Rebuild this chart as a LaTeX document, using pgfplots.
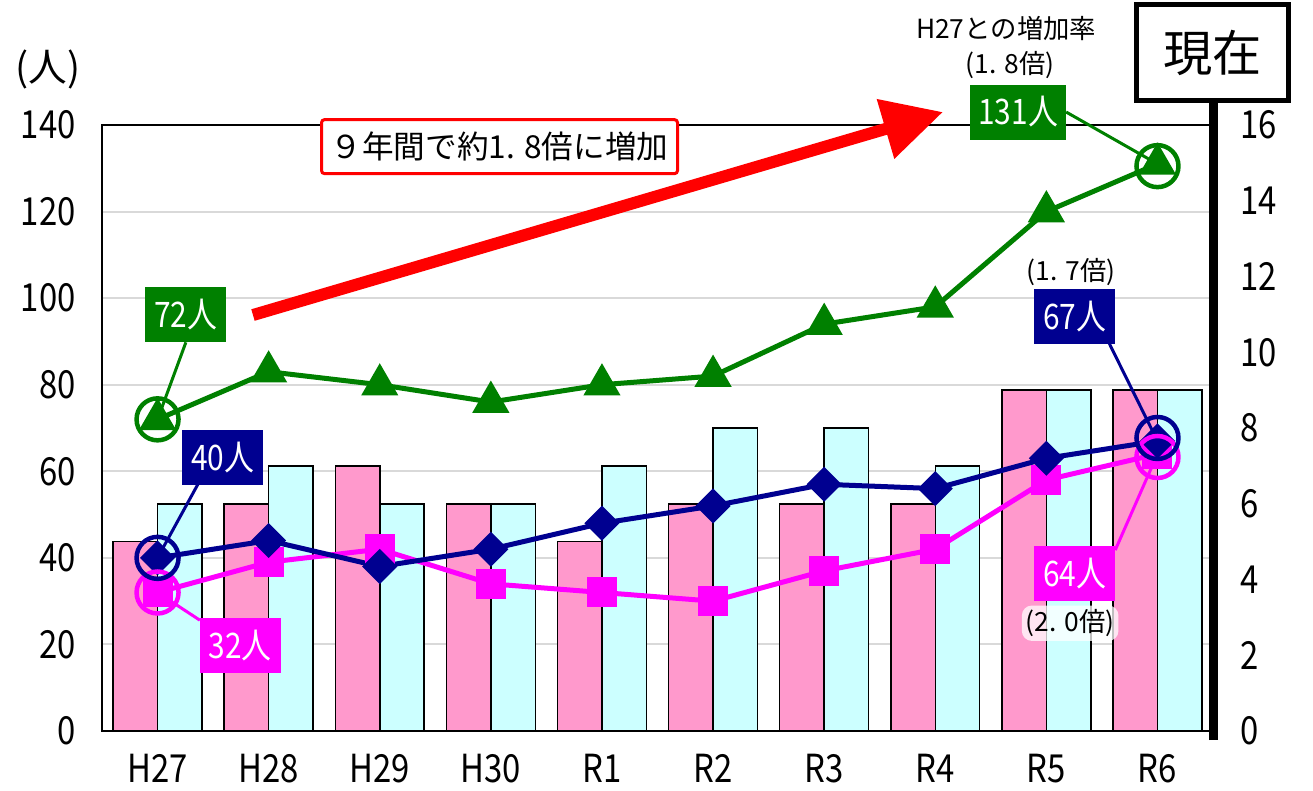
\documentclass[border=0pt]{standalone}
\usepackage{fontspec}
\setmainfont{Noto Sans CJK JP}
\newfontfamily\cond{Noto Sans CJK JP}[FakeStretch=0.85]
\usepackage{pgfplots}
\pgfplotsset{compat=1.18}
\usetikzlibrary{arrows.meta}

\definecolor{barpink}{HTML}{FF99CC}
\definecolor{barcyan}{HTML}{CCFFFF}
\definecolor{dgreen}{HTML}{008000}
\definecolor{navy}{HTML}{000090}
\definecolor{mag}{HTML}{FF00FF}
\definecolor{gridgray}{HTML}{D9D9D9}

\pgfplotsset{
  myax/.style={at={(10.2mm,5.9mm)}, anchor=south west, scale only axis,
    width=111.1mm, height=60.6mm, xmin=-0.5, xmax=9.5},
}
\tikzset{
  lbl/.style={text=white, minimum width=8.1mm, minimum height=5.5mm, inner sep=0pt,
    font=\cond\fontsize{10}{12}\selectfont},
  leader/.style={line width=0.3mm},
}

\begin{document}
\begin{tikzpicture}
\useasboundingbox (0,0) rectangle (131.3mm,79mm);

% Left axis: ticks, grid, frame
\begin{axis}[myax, ymin=0, ymax=140, ytick={0,20,...,140},
  xtick={0,...,9}, xticklabels={H27,H28,H29,H30,R1,R2,R3,R4,R5,R6},
  ymajorgrids, grid style={gridgray, line width=0.2mm},
  major tick length=0pt, axis line style={line width=0.15mm},
  tick label style={font=\cond\fontsize{11}{13}\selectfont},
  /pgf/number format/assume math mode=true,
  yticklabel style={xshift=-1.4mm}, xticklabel style={yshift=-1.1mm}]
\end{axis}

% Right axis: bars
\begin{axis}[myax, ymin=0, ymax=16, ytick={0,2,...,16},
  axis y line*=right, axis x line=none, axis line style={draw=none},
  major tick length=0pt,
  yticklabel style={font=\cond\fontsize{11}{13}\selectfont, xshift=1.5mm},
  /pgf/number format/assume math mode=true]
\addplot[ybar, bar width=0.4, bar shift=-0.2, fill=barpink, draw=black, line width=0.15mm]
  coordinates {(0,5) (1,6) (2,7) (3,6) (4,5) (5,6) (6,6) (7,6) (8,9) (9,9)};
\addplot[ybar, bar width=0.4, bar shift=0.2, fill=barcyan, draw=black, line width=0.15mm]
  coordinates {(0,6) (1,7) (2,6) (3,6) (4,7) (5,8) (6,8) (7,7) (8,9) (9,9)};
\end{axis}

% Left axis: lines and annotations
\begin{axis}[myax, ymin=0, ymax=140, hide axis, clip=false]
\addplot[mag, line width=0.5mm, mark=square*, mark size=1.25mm, mark options={solid}]
  coordinates {(0,32) (1,39) (2,42) (3,34) (4,32) (5,30) (6,37) (7,42) (8,58) (9,64)};
\addplot[navy, line width=0.5mm, mark=square*, mark size=0.99mm, mark options={solid, rotate=45}]
  coordinates {(0,40) (1,44) (2,38) (3,42) (4,48) (5,52) (6,57) (7,56) (8,63) (9,67)};
\addplot[dgreen, line width=0.5mm, mark=triangle*, mark size=1.65mm, mark options={solid}]
  coordinates {(0,72) (1,83) (2,80) (3,76) (4,80) (5,82) (6,94) (7,98) (8,120) (9,131)};
% highlight circles
\addplot[mag, only marks, mark=o, mark size=2.1mm, mark options={line width=0.45mm}]
  coordinates {(0,32) (9,63.3)};
\addplot[navy, only marks, mark=o, mark size=2.1mm, mark options={line width=0.45mm}]
  coordinates {(0,40) (9,67.7)};
\addplot[dgreen, only marks, mark=o, mark size=2.1mm, mark options={line width=0.45mm}]
  coordinates {(0,72) (9,130.5)};

% right thick axis line
\draw[black, line width=0.9mm] (axis cs:9.5,-2.1) -- (axis cs:9.5,145);
\node[draw=black, line width=0.5mm, fill=white, minimum width=15.2mm, minimum height=9.6mm,
  inner sep=0pt, font=\fontsize{14}{16}\selectfont] at (axis cs:9.495,156.7) {現在};

% red arrow
\draw[red, line width=1.2mm, -{Triangle[length=6mm, width=5.9mm]}]
  (axis cs:0.859,96.1) -- (axis cs:7.07,143.0);
\node[draw=red, line width=0.3mm, fill=white, rounded corners=0.3mm,
  minimum width=35.6mm, minimum height=5.4mm, inner sep=0pt,
  font=\fontsize{9}{11}\selectfont] at (axis cs:3.078,135.0) {９年間で約1. 8倍に増加};

% leader lines and labels
\draw[dgreen, leader] (axis cs:0.255,89.8) -- (axis cs:0,72);
\node[lbl, fill=dgreen] at (axis cs:0.255,96.2) {72人};
\draw[navy, leader] (axis cs:0.363,57.0) -- (axis cs:0,40);
\node[lbl, fill=navy] at (axis cs:0.588,63.2) {40人};
\draw[mag, leader] (axis cs:0.381,25.6) -- (axis cs:0,32);
\node[lbl, fill=mag] at (axis cs:0.745,19.7) {32人};

\draw[dgreen, leader] (axis cs:8.178,143.0) -- (axis cs:9,131);
\node[lbl, fill=dgreen, minimum width=9.6mm] at (axis cs:7.746,143.0) {131人};
\draw[navy, leader] (axis cs:8.565,89.6) -- (axis cs:9,67);
\node[lbl, fill=navy] at (axis cs:8.255,95.8) {67人};
\draw[mag, leader] (axis cs:8.62,41.8) -- (axis cs:9,64);
\node[lbl, fill=mag] at (axis cs:8.255,36.3) {64人};

\node[font=\fontsize{7.5}{9}\selectfont] at (axis cs:8.223,106.0) {(1. 7倍)};
\node[font=\fontsize{7.5}{9}\selectfont, fill=white, fill opacity=0.75, text opacity=1,
  rounded corners=1mm, inner sep=0.4mm] at (axis cs:8.214,24.9) {(2. 0倍)};
\node[font=\fontsize{7.5}{9}\selectfont] at (axis cs:7.638,162.4) {H27との増加率};
\node[font=\fontsize{7.5}{9}\selectfont] at (axis cs:7.674,153.8) {(1. 8倍)};
\node[font=\fontsize{11}{13}\selectfont] at (axis cs:-0.986,152.8) {(人)};
\end{axis}
\end{tikzpicture}
\end{document}
